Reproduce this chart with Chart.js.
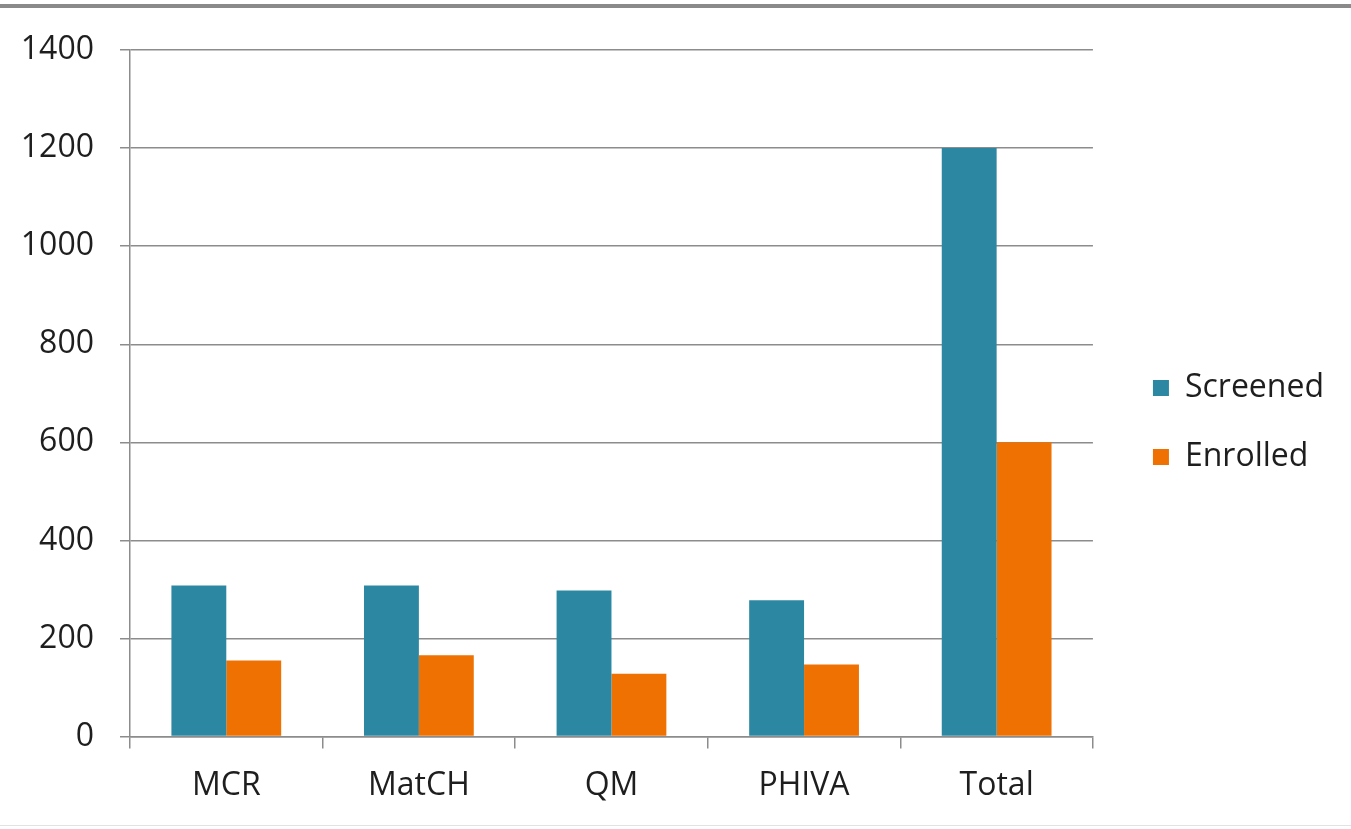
<!DOCTYPE html>
<html>
<head>
<meta charset="utf-8">
<script src="https://cdn.jsdelivr.net/npm/chart.js@4"></script>
<style>
  html, body { margin: 0; padding: 0; background: #fff; }
  #wrap { position: relative; width: 1351px; height: 829px; }
  #topline { position: absolute; left: 0; top: 4px; width: 1351px; height: 4px; background: #8a8a8a; }
  #botline { position: absolute; left: 0; top: 825px; width: 1351px; height: 1px; background: #e2e2e2; }
  canvas { position: absolute; left: 0; top: 0; }
</style>
</head>
<body>
<div id="wrap">
  <canvas id="c" width="1351" height="829"></canvas>
  <div id="topline"></div>
  <div id="botline"></div>
</div>
<script>
const categories = ["MCR", "MatCH", "QM", "PHIVA", "Total"];
const screened = [308, 308, 298, 278, 1200];
const enrolled = [155, 166, 128, 147, 600];
const seriesNames = ["Screened", "Enrolled"];
const yMin = 0, yMax = 1400, yStep = 200;

const FONT = "'Open Sans', 'DejaVu Sans', sans-serif";
const GRID = "#8c8c8c";

const legendShift = {
  id: "legendShift",
  afterLayout(chart) {
    const lg = chart.legend;
    if (!lg) return;
    lg.left += 23; lg.right += 23;
    lg.top -= 14; lg.bottom -= 14;
  }
};

new Chart(document.getElementById("c"), {
  type: "bar",
  data: {
    labels: categories,
    datasets: [
      { label: seriesNames[0], data: screened, backgroundColor: "#2C87A2", categoryPercentage: 0.57, barPercentage: 1.0 },
      { label: seriesNames[1], data: enrolled, backgroundColor: "#EE7102", categoryPercentage: 0.57, barPercentage: 1.0 }
    ]
  },
  plugins: [legendShift],
  options: {
    responsive: false,
    animation: false,
    devicePixelRatio: 1,
    layout: { padding: { top: 50, left: 0, right: 40, bottom: 6 } },
    plugins: {
      tooltip: { enabled: false },
      legend: {
        position: "right",
        align: "center",
        labels: {
          boxWidth: 16, boxHeight: 16, padding: 37,
          color: "#1e1e1e",
          font: { family: FONT, size: 32 }
        }
      }
    },
    scales: {
      x: {
        grid: { display: true, drawOnChartArea: false, drawTicks: true, tickLength: 12, color: GRID, lineWidth: 1.5, offset: true },
        border: { display: true, color: GRID, width: 1.5 },
        ticks: { color: "#1e1e1e", padding: 18, font: { family: FONT, size: 32 } }
      },
      y: {
        min: yMin, max: yMax,
        afterFit: (s) => { s.width = 130; },
        grid: { color: GRID, lineWidth: 1.5, drawTicks: true, tickLength: 10 },
        border: { display: true, color: GRID, width: 1.5 },
        ticks: { stepSize: yStep, color: "#1e1e1e", padding: 26, font: { family: FONT, size: 32 },
                 callback: (v) => String(v) }
      }
    }
  }
});
</script>
</body>
</html>
